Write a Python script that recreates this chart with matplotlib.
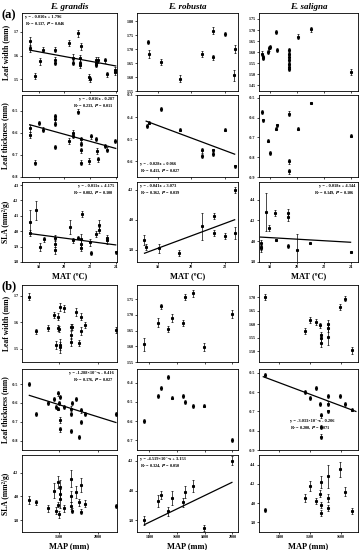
import numpy as np
import matplotlib
matplotlib.use('Agg')
from matplotlib import pyplot as plt
from matplotlib.ticker import FormatStrFormatter, MultipleLocator, NullFormatter

plt.rcParams['font.family'] = ['Liberation Serif', 'DejaVu Serif']
plt.rcParams['font.weight'] = 'bold'
plt.rcParams['axes.linewidth'] = 0.6

# ---------------- (a) MAT ----------------
# E. grandis
gr_mat_w_x = [17.3, 17.3, 17.7, 18.08, 18.34, 19.24, 19.24, 19.24, 20.39, 20.65, 20.65, 21.03, 21.29,
              21.2, 21.2, 21.2, 21.93, 21.97, 22.45, 22.45, 22.45, 22.6, 23.2, 23.3, 23.97, 23.97]
gr_mat_w_y = [1.66, 1.63, 1.514, 1.576, 1.625, 1.625, 1.57, 1.58, 1.653, 1.59, 1.57, 1.694, 1.639,
              1.59, 1.57, 1.56, 1.51, 1.50, 1.58, 1.57, 1.56, 1.58, 1.58, 1.52, 1.53, 1.54]
gr_mat_w_e = [0.02, 0.015, 0.012, 0.015, 0.01, 0.012, 0.012, 0.012, 0.012, 0.015, 0.012, 0.015, 0.015,
              0.012, 0.015, 0.012, 0.012, 0.01, 0.015, 0.012, 0.01, 0.012, 0.01, 0.012, 0.012, 0.012]

gr_mat_t_x = [17.3, 17.3, 17.7, 18.03, 18.34, 19.24, 19.24, 19.24, 19.24, 20.39, 20.65, 20.65, 21.03,
              21.29, 21.29, 21.29, 21.29, 21.93, 22.06, 22.45, 22.58, 22.65, 23.2, 23.3, 23.97]
gr_mat_t_y = [-0.58, -0.61, -0.735, -0.557, -0.586, -0.527, -0.54, -0.56, -0.665, -0.638, -0.60, -0.615,
              -0.505, -0.63, -0.65, -0.68, -0.735, -0.728, -0.616, -0.628, -0.683, -0.72, -0.66, -0.676, -0.638]
gr_mat_t_e = [0.015, 0.012, 0.012, 0.01, 0.01, 0.012, 0.01, 0.01, 0.008, 0.015, 0.012, 0.01, 0.01,
              0.012, 0.01, 0.01, 0.01, 0.015, 0.012, 0.01, 0.012, 0.012, 0.01, 0.01, 0.01]

gr_mat_s_x = [17.3, 17.3, 17.8, 18.08, 18.4, 19.3, 19.3, 19.3, 20.46, 20.65, 21.1, 21.3, 21.3, 21.3,
              21.4, 21.97, 22.06, 22.5, 22.7, 22.7, 23.3, 23.3, 24.0]
gr_mat_s_y = [4.06, 3.99, 4.136, 3.896, 3.948, 3.958, 3.92, 3.875, 4.03, 3.94, 3.958, 3.95, 3.92, 3.89,
              4.114, 3.927, 3.858, 3.98, 4.04, 4.01, 3.956, 3.94, 3.864]
gr_mat_s_e = [0.08, 0.02, 0.06, 0.025, 0.015, 0.02, 0.02, 0.02, 0.045, 0.015, 0.01, 0.03, 0.02, 0.02,
              0.02, 0.02, 0.015, 0.02, 0.03, 0.02, 0.02, 0.02, 0.01]

# E. robusta
ro_mat_w_x = [17.38, 17.48, 18.21, 19.35, 20.65, 21.32, 21.32, 22.02, 22.6, 22.55]
ro_mat_w_y = [1.725, 1.683, 1.654, 1.594, 1.683, 1.767, 1.671, 1.755, 1.70, 1.606]
ro_mat_w_e = [0.008, 0.015, 0.01, 0.012, 0.012, 0.012, 0.01, 0.008, 0.015, 0.02]

ro_mat_t_x = [17.36, 17.45, 18.17, 19.31, 20.65, 20.65, 21.32, 21.32, 22.02, 22.6]
ro_mat_t_y = [-0.44, -0.425, -0.364, -0.457, -0.55, -0.575, -0.55, -0.565, -0.457, -0.622]
ro_mat_t_e = [0.008, 0.006, 0.01, 0.006, 0.012, 0.01, 0.008, 0.008, 0.006, 0.008]

ro_mat_s_x = [17.18, 17.3, 18.07, 19.25, 20.64, 21.34, 21.34, 22.04, 22.6, 22.6]
ro_mat_s_y = [3.867, 3.822, 3.811, 3.782, 3.956, 4.027, 3.911, 3.893, 4.2, 3.911]
ro_mat_s_e = [0.033, 0.02, 0.03, 0.02, 0.087, 0.02, 0.02, 0.02, 0.02, 0.04]

# E. saligna
sa_mat_w_x = [17.45, 17.47, 17.5, 17.9, 17.97, 18.05, 18.45, 18.57, 19.44, 19.44, 19.44, 19.44, 19.44,
              19.44, 19.44, 20.06, 21.06, 24.04]
sa_mat_w_y = [1.594, 1.579, 1.574, 1.601, 1.617, 1.624, 1.692, 1.609, 1.609, 1.594, 1.579, 1.564, 1.549,
              1.533, 1.525, 1.67, 1.703, 1.51]
sa_mat_w_e = [0.01, 0.008, 0.008, 0.01, 0.01, 0.01, 0.01, 0.01, 0.008, 0.008, 0.008, 0.008, 0.008,
              0.008, 0.008, 0.01, 0.01, 0.015]

sa_mat_t_x = [17.45, 17.5, 17.9, 18.0, 18.5, 18.45, 19.4, 19.44, 19.44, 20.06, 21.06, 24.04]
sa_mat_t_y = [-0.571, -0.613, -0.716, -0.777, -0.639, -0.656, -0.579, -0.82, -0.871, -0.656, -0.524, -0.69]
sa_mat_t_e = [0.01, 0.008, 0.006, 0.01, 0.008, 0.008, 0.012, 0.012, 0.012, 0.008, 0.006, 0.008]

sa_mat_s_x = [17.33, 17.35, 17.38, 17.74, 17.95, 18.4, 18.45, 19.39, 19.39, 19.39, 19.99, 20.98, 24.04]
sa_mat_s_y = [3.98, 3.93, 3.94, 4.28, 4.13, 4.27, 4.01, 4.27, 4.23, 3.95, 3.92, 3.98, 3.9]
sa_mat_s_e = [0.03, 0.03, 0.02, 0.18, 0.03, 0.03, 0.01, 0.04, 0.04, 0.02, 0.15, 0.005, 0.01]

# ---------------- (b) MAP ----------------
gr_map_x = [1115, 1201, 1359, 1432, 1458, 1487, 1487, 1500, 1509, 1509, 1518, 1560, 1650, 1655,
            1660, 1670, 1714, 1756, 1778, 1780, 1842, 2236]
gr_map_w_y = [1.696, 1.565, 1.578, 1.627, 1.515, 1.621, 1.578, 1.575, 1.515, 1.505, 1.658, 1.652,
              1.583, 1.553, 1.527, 1.583, 1.64, 1.521, 1.621, 1.565, 1.59, 1.571]
gr_map_w_e = [0.012, 0.01, 0.012, 0.01, 0.015, 0.012, 0.012, 0.012, 0.02, 0.02, 0.015, 0.012,
              0.012, 0.015, 0.015, 0.012, 0.015, 0.012, 0.012, 0.015, 0.012, 0.012]
gr_map_t_y = [-0.50, -0.66, -0.60, -0.58, -0.62, -0.55, -0.63, -0.60, -0.69, -0.74, -0.57, -0.62,
              -0.66, -0.75, -0.63, -0.60, -0.58, -0.78, -0.64, -0.70, -0.66, -0.66]
gr_map_t_e = [0.012, 0.01, 0.01, 0.012, 0.01, 0.012, 0.01, 0.01, 0.015, 0.012, 0.01, 0.01,
              0.012, 0.01, 0.012, 0.01, 0.012, 0.01, 0.012, 0.01, 0.01, 0.012]
gr_map_s_y = [3.97, 3.95, 3.90, 4.05, 3.88, 4.12, 3.93, 3.85, 3.98, 4.02, 4.08, 3.90, 4.00, 3.92,
              4.15, 3.88, 4.04, 3.95, 3.87, 4.10, 3.94, 3.92]
gr_map_s_e = [0.03, 0.02, 0.03, 0.06, 0.03, 0.05, 0.02, 0.03, 0.08, 0.04, 0.06, 0.03, 0.05, 0.03,
              0.07, 0.02, 0.05, 0.03, 0.02, 0.06, 0.03, 0.02]

ro_map_x = [1364, 1463, 1482, 1531, 1565, 1645, 1655, 1715, 1797, 1996]
ro_map_w_y = [1.606, 1.675, 1.728, 1.656, 1.69, 1.675, 1.757, 1.768, 1.597, 1.702]
ro_map_w_e = [0.02, 0.015, 0.008, 0.01, 0.013, 0.01, 0.01, 0.012, 0.013, 0.013]
ro_map_t_y = [-0.60, -0.47, -0.43, -0.37, -0.48, -0.47, -0.50, -0.52, -0.52, -0.70]
ro_map_t_e = [0.01, 0.008, 0.01, 0.01, 0.008, 0.008, 0.01, 0.01, 0.008, 0.01]
ro_map_s_y = [3.80, 3.93, 3.97, 3.86, 3.95, 3.92, 3.99, 4.03, 3.75, 4.20]
ro_map_s_e = [0.03, 0.04, 0.03, 0.03, 0.05, 0.03, 0.04, 0.04, 0.02, 0.03]

sa_map_x = [1352, 1483, 1500, 1518, 1531, 1535, 1535, 1535, 1558, 1559, 1560, 1599, 1615, 1637]
sa_map_w_y = [1.701, 1.575, 1.615, 1.608, 1.596, 1.559, 1.547, 1.53, 1.602, 1.584, 1.552, 1.664, 1.695, 1.503]
sa_map_w_e = [0.01, 0.01, 0.012, 0.012, 0.01, 0.012, 0.015, 0.015, 0.015, 0.012, 0.03, 0.01, 0.01, 0.013]
sa_map_t_y = [-0.51, -0.60, -0.63, -0.58, -0.66, -0.72, -0.78, -0.83, -0.62, -0.66, -0.70, -0.62, -0.66, -0.69]
sa_map_t_e = [0.01, 0.01, 0.012, 0.01, 0.01, 0.012, 0.012, 0.012, 0.01, 0.012, 0.01, 0.01, 0.01, 0.01]
sa_map_s_y = [3.93, 4.05, 4.18, 4.02, 4.10, 4.22, 3.98, 3.90, 4.28, 4.05, 3.95, 4.35, 4.12, 3.92]
sa_map_s_e = [0.02, 0.04, 0.05, 0.03, 0.04, 0.06, 0.03, 0.03, 0.12, 0.04, 0.03, 0.08, 0.05, 0.03]

# fitted lines (end points) and their labels
fits = {
    (0, 0): ([17.3, 24.0], [1.623, 1.556], 'y = - 0.010x + 1.796\nR² = 0.137, $\\it{P}$ = 0.046', 'tl'),
    (1, 0): ([17.3, 24.0], [-0.564, -0.671], 'y = - 0.016x - 0.287\nR² = 0.233, $\\it{P}$ = 0.011', 'tr'),
    (1, 1): ([17.3, 22.6], [-0.418, -0.567], 'y = - 0.028x + 0.066\nR² = 0.413, $\\it{P}$ = 0.027', 'bl'),
    (2, 0): ([17.3, 24.0], [3.985, 3.911], 'y = - 0.011x + 4.175\nR² = 0.082, $\\it{P}$ = 0.100', 'tr'),
    (2, 1): ([17.2, 22.6], [3.778, 4.0], 'y = - 0.041x + 3.073\nR² = 0.362, $\\it{P}$ = 0.039', 'tl'),
    (2, 2): ([17.3, 24.0], [4.04, 3.99], 'y = - 0.018x + 4.344\nR² = 0.149, $\\it{P}$ = 0.106', 'tr'),
    (4, 0): ([1115, 2236], [-0.56, -0.704], 'y = -1.288×10⁻⁴x - 0.416\nR² = 0.176, $\\it{P}$ = 0.027', 'tr'),
    (5, 1): ([1364, 1996], [3.77, 4.055], 'y = -4.519×10⁻⁴x + 3.153\nR² = 0.324, $\\it{P}$ = 0.050', 'tl'),
    (4, 2): ([1347, 1650], [-0.52, -0.70], 'y = -3.033×10⁻⁴x - 0.206\nR² = 0.200, $\\it{P}$ = 0.071', 'mid'),
}

data = [
    [(gr_mat_w_x, gr_mat_w_y, gr_mat_w_e), (ro_mat_w_x, ro_mat_w_y, ro_mat_w_e), (sa_mat_w_x, sa_mat_w_y, sa_mat_w_e)],
    [(gr_mat_t_x, gr_mat_t_y, gr_mat_t_e), (ro_mat_t_x, ro_mat_t_y, ro_mat_t_e), (sa_mat_t_x, sa_mat_t_y, sa_mat_t_e)],
    [(gr_mat_s_x, gr_mat_s_y, gr_mat_s_e), (ro_mat_s_x, ro_mat_s_y, ro_mat_s_e), (sa_mat_s_x, sa_mat_s_y, sa_mat_s_e)],
    [(gr_map_x, gr_map_w_y, gr_map_w_e), (ro_map_x, ro_map_w_y, ro_map_w_e), (sa_map_x, sa_map_w_y, sa_map_w_e)],
    [(gr_map_x, gr_map_t_y, gr_map_t_e), (ro_map_x, ro_map_t_y, ro_map_t_e), (sa_map_x, sa_map_t_y, sa_map_t_e)],
    [(gr_map_x, gr_map_s_y, gr_map_s_e), (ro_map_x, ro_map_s_y, ro_map_s_e), (sa_map_x, sa_map_s_y, sa_map_s_e)],
]

# y-limits, tick step, format per panel
ysets = [
    [((1.45, 1.78), 0.1, '%.1f'), ((1.55, 1.83), 0.05, '%.2f'), ((1.425, 1.777), 0.05, '%.2f')],
    [((-0.80, -0.43), 0.1, '%.1f'), ((-0.67, -0.30), 0.1, '%.1f'), ((-0.90, -0.485), 0.1, '%.1f')],
    [((3.8, 4.32), 0.1, '%.1f'), ((3.72, 4.25), 0.2, '%.1f'), ((3.8, 4.57), 0.2, '%.1f')],
    [((1.45, 1.74), 0.1, '%.1f'), ((1.55, 1.795), 0.05, '%.2f'), ((1.46, 1.745), 0.05, '%.2f')],
    [((-0.85, -0.42), 0.1, '%.1f'), ((-0.75, -0.33), 0.1, '%.1f'), ((-0.90, -0.48), 0.1, '%.1f')],
    [((3.7, 4.35), 0.2, '%.1f'), ((3.72, 4.24), 0.2, '%.1f'), ((3.7, 4.5), 0.2, '%.1f')],
]
xsets_a = [((16.7, 24.1), 2), ((16.75, 22.8), 2), ((17.2, 24.55), 2)]
xsets_b = [((1020, 2250), 500), ((1310, 2040), 200), ((1333, 1657), 100)]

W, H = 363, 550
cols = [(22, 117), (137, 238), (259, 358)]
rows = [(13, 91), (95, 177), (182, 262), (285, 362), (369, 450), (455, 532)]

fig = plt.figure(figsize=(W / 100, H / 100), dpi=100)

ylabels = ['Leaf width (mm)', 'Leaf thickness (mm)', 'SLA (mm²/g)']
titles = ['E. grandis', 'E. robusta', 'E. saligna']

for r in range(6):
    for c in range(3):
        x0, x1 = cols[c]
        y0, y1 = rows[r]
        ax = fig.add_axes([x0 / W, 1 - y1 / H, (x1 - x0) / W, (y1 - y0) / H])
        x, y, e = data[r][c]
        ax.errorbar(x, y, yerr=e, fmt='s', ms=1.2, color='k', ecolor='k',
                    elinewidth=0.5, capsize=0.8, capthick=0.5)
        if (r, c) in fits:
            fx, fy, txt, pos = fits[(r, c)]
            ax.plot(fx, fy, color='k', lw=0.9)
            if pos == 'tl':
                ax.text(0.03, 0.97, txt, transform=ax.transAxes, ha='left', va='top', fontsize=3.2, linespacing=1.3)
            elif pos == 'tr':
                ax.text(0.97, 0.97, txt, transform=ax.transAxes, ha='right', va='top', fontsize=3.2, linespacing=1.3)
            elif pos == 'bl':
                ax.text(0.03, 0.04, txt, transform=ax.transAxes, ha='left', va='bottom', fontsize=3.2, linespacing=1.3)
            else:
                ax.text(0.31, 0.38, txt, transform=ax.transAxes, ha='left', va='top', fontsize=3.2, linespacing=1.3)
        ylim, ystep, yfmt = ysets[r][c]
        ax.set_ylim(ylim)
        ax.yaxis.set_major_locator(MultipleLocator(ystep))
        ax.yaxis.set_major_formatter(FormatStrFormatter(yfmt))
        xlim, xstep = (xsets_a if r < 3 else xsets_b)[c]
        ax.set_xlim(xlim)
        ax.xaxis.set_major_locator(MultipleLocator(xstep))
        ax.tick_params(direction='out', length=1.5, width=0.5, labelsize=3, pad=1)
        if r in (2, 5):
            ax.xaxis.set_major_formatter(FormatStrFormatter('%d'))
            ax.set_xlabel('MAT (ºC)' if r == 2 else 'MAP (mm)', fontsize=6, fontweight='bold', labelpad=2)
        else:
            ax.xaxis.set_major_formatter(NullFormatter())
        if c == 0:
            ax.set_ylabel(ylabels[r % 3], fontsize=5.5, fontweight='bold', labelpad=2)
        if r == 0:
            ax.set_title(titles[c], fontsize=6.5, fontweight='bold', style='italic', pad=3)

fig.text(1 / W, 1 - 15 / H, '(a)', fontsize=9, fontweight='bold', ha='left', va='center')
fig.text(1 / W, 1 - 286 / H, '(b)', fontsize=9, fontweight='bold', ha='left', va='center')

plt.savefig('out.png', dpi=100)
